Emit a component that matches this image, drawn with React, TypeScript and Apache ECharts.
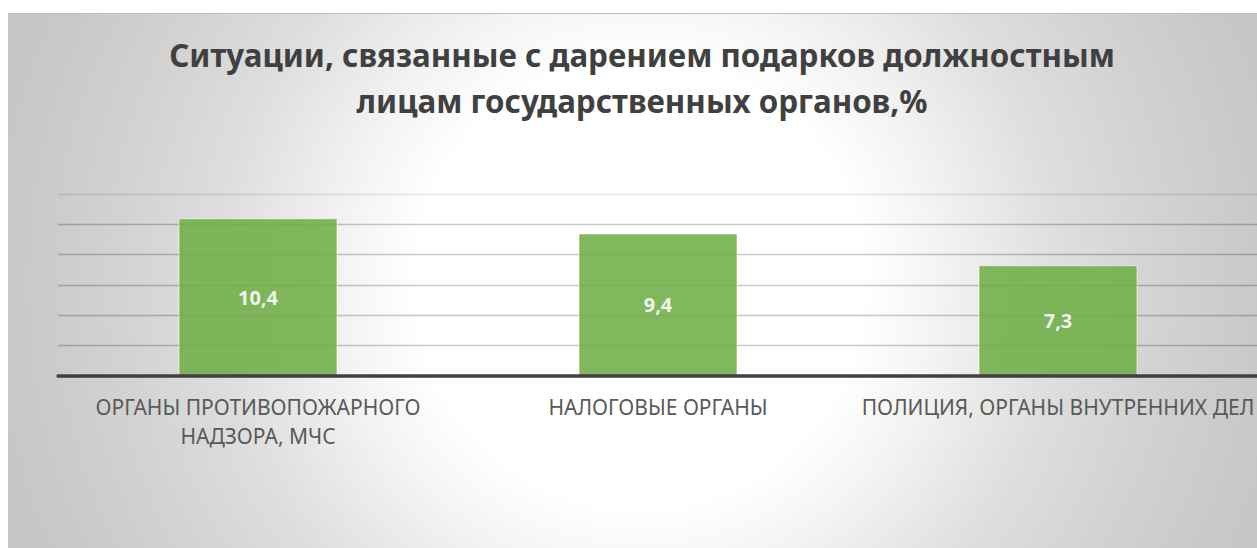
import React, { useEffect, useRef } from "react";
import * as echarts from "echarts";

const TITLE = "Ситуации, связанные с дарением подарков должностным\nлицам государственных органов,%";
const categories = [
  "ОРГАНЫ ПРОТИВОПОЖАРНОГО\nНАДЗОРА, МЧС",
  "НАЛОГОВЫЕ ОРГАНЫ",
  "ПОЛИЦИЯ, ОРГАНЫ ВНУТРЕННИХ ДЕЛ",
];
const values = [10.4, 9.4, 7.3];
const yTicks = [0, 2, 4, 6, 8, 10, 12];

const FONT = "'Noto Sans', sans-serif";

export default function App() {
  const ref = useRef<HTMLDivElement>(null);
  useEffect(() => {
    if (!ref.current) return;
    const chart = echarts.init(ref.current, undefined, { renderer: "svg" });
    chart.setOption({
      animation: false,
      graphic: [
        {
          type: "rect",
          z: -100,
          silent: true,
          shape: { x: 0, y: 0, width: 1300, height: 540 },
          style: {
            fill: {
              type: "radial",
              x: 632,
              y: 269,
              r: 700,
              global: true,
              colorStops: [
                { offset: 0, color: "#ffffff" },
                { offset: 0.32, color: "#ffffff" },
                { offset: 0.43, color: "#f3f3f3" },
                { offset: 0.6, color: "#dedede" },
                { offset: 0.75, color: "#d2d2d2" },
                { offset: 0.9, color: "#c8c8c8" },
                { offset: 1, color: "#c4c4c4" },
              ],
            },
          },
        },
      ],
      title: {
        text: TITLE,
        left: 629,
        top: 13,
        textAlign: "center",
        textStyle: {
          fontFamily: FONT,
          fontSize: 31.3,
          fontWeight: "bold",
          color: "#404040",
          lineHeight: 46,
        },
      },
      grid: { left: 50, top: 180, width: 1200, height: 182 },
      xAxis: {
        type: "category",
        data: categories,
        z: 5,
        axisLine: { lineStyle: { color: "#404040", width: 3.5 } },
        axisTick: { show: false },
        axisLabel: {
          interval: 0,
          color: "#595959",
          fontFamily: FONT,
          fontSize: 21,
          lineHeight: 29,
          margin: 16,
        },
      },
      yAxis: {
        type: "value",
        min: yTicks[0],
        max: yTicks[yTicks.length - 1],
        interval: 2,
        axisLabel: { show: false },
        axisLine: { show: false },
        axisTick: { show: false },
        splitLine: {
          lineStyle: {
            width: 1.3,
            color: [
              "rgba(0,0,0,0.22)",
              "rgba(0,0,0,0.22)",
              "rgba(0,0,0,0.22)",
              "rgba(0,0,0,0.22)",
              "rgba(0,0,0,0.22)",
              "rgba(0,0,0,0.22)",
              "rgba(0,0,0,0.1)",
            ],
          },
        },
      },
      series: [
        {
          type: "bar",
          data: values,
          barWidth: 159,
          itemStyle: {
            color: "#70AD47",
            opacity: 0.88,
            borderColor: "rgba(255,255,255,0.7)",
            borderWidth: 1,
          },
          label: {
            show: true,
            position: "inside",
            formatter: (p: any) => String(p.value).replace(".", ","),
            color: "#ffffff",
            fontFamily: FONT,
            fontWeight: "bold",
            fontSize: 20,
          },
        },
      ],
    });
    return () => chart.dispose();
  }, []);
  return (
    <div
      style={{
        position: "absolute",
        left: 8,
        top: 8,
        width: 1249,
        height: 540,
        overflow: "hidden",
      }}
    >
      <div
        ref={ref}
        style={{
          position: "absolute",
          left: 0,
          top: 5,
          width: 1300,
          height: 535,
          borderTop: "1px solid #c0c0c0",
        }}
      />
    </div>
  );
}
